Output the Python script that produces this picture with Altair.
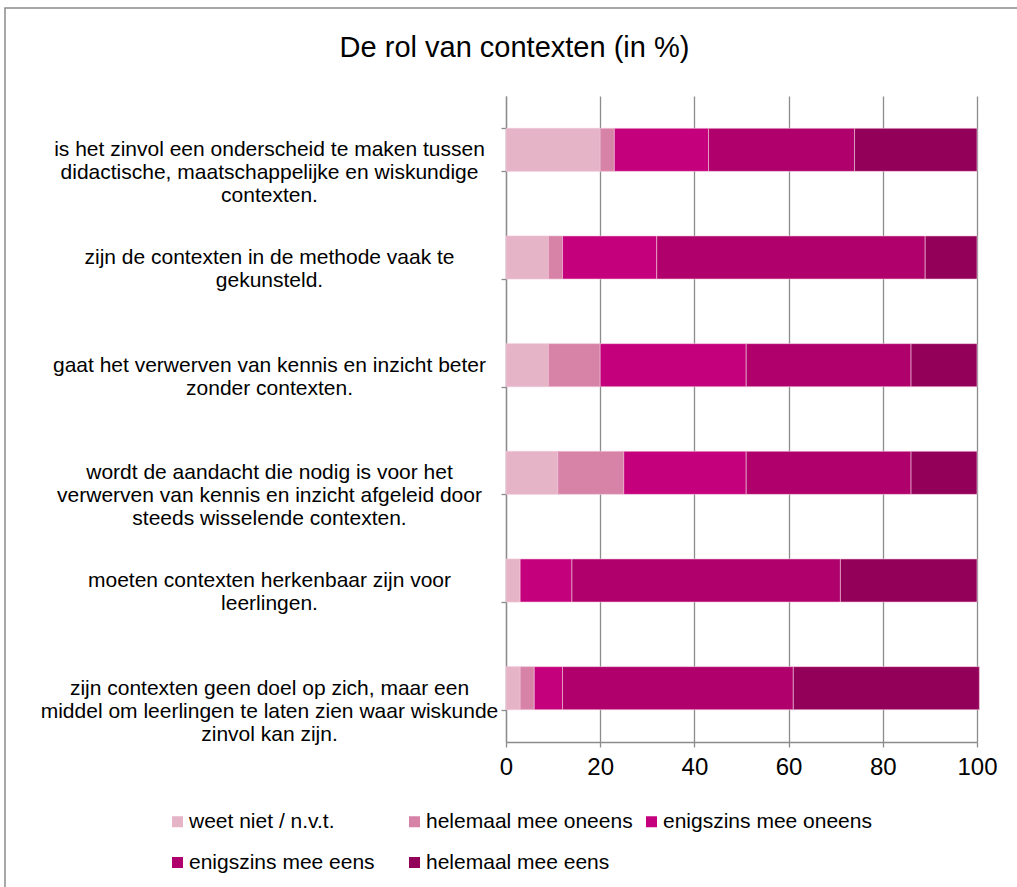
import altair as alt
import pandas as pd

FONT = "Liberation Sans"

title_text = "De rol van contexten (in %)"

categories = [
    "is het zinvol een onderscheid te maken tussen\ndidactische, maatschappelijke en wiskundige\ncontexten.",
    "zijn de contexten in de methode vaak te\ngekunsteld.",
    "gaat het verwerven van kennis en inzicht beter\nzonder contexten.",
    "wordt de aandacht die nodig is voor het\nverwerven van kennis en inzicht afgeleid door\nsteeds wisselende contexten.",
    "moeten contexten herkenbaar zijn voor\nleerlingen.",
    "zijn contexten geen doel op zich, maar een\nmiddel om leerlingen te laten zien waar wiskunde\nzinvol kan zijn.",
]

responses = [
    "weet niet / n.v.t.",
    "helemaal mee oneens",
    "enigszins mee oneens",
    "enigszins mee eens",
    "helemaal mee eens",
]
colors = ["#E5B4C6", "#D683A7", "#C5007D", "#AF006B", "#93005A"]

weet_niet = [20, 9, 9, 11, 3, 3]
helemaal_oneens = [3, 3, 11, 14, 0, 3]
enigszins_oneens = [20, 20, 31, 26, 11, 6]
enigszins_eens = [31, 57, 35, 35, 57, 49]
helemaal_eens = [26, 11, 14, 14, 29, 39.5]

x_ticks = [0, 20, 40, 60, 80, 100]

series = [weet_niet, helemaal_oneens, enigszins_oneens, enigszins_eens, helemaal_eens]
rows = []
for r_idx, (resp, vals) in enumerate(zip(responses, series)):
    for cat, v in zip(categories, vals):
        rows.append({"vraag": cat, "antwoord": resp, "pct": v, "idx": r_idx})
df = pd.DataFrame(rows)

GRAY = "#8C8C8C"

bars = alt.Chart(df).mark_bar(stroke="#F2C6DA", strokeWidth=0.6).encode(
    y=alt.Y(
        "vraag:N",
        sort=categories,
        scale=alt.Scale(paddingInner=0.6, paddingOuter=0.3),
        axis=alt.Axis(
            title=None,
            labelExpr="split(datum.label, '\\n')",
            labelAlign="center",
            labelBaseline="middle",
            labelPadding=232,
            labelFontSize=21,
            labelLineHeight=23,
            labelLimit=700,
            labelFont=FONT,
            labelColor="black",
            tickBand="extent",
            tickSize=5,
            tickColor=GRAY,
            tickWidth=1.3,
            domainColor=GRAY,
            domainWidth=1.3,
            grid=False,
        ),
    ),
    x=alt.X(
        "pct:Q",
        stack="zero",
        scale=alt.Scale(domain=[0, 100], nice=False),
        axis=alt.Axis(
            title=None,
            values=x_ticks,
            grid=True,
            gridColor=GRAY,
            gridWidth=1.3,
            tickSize=5,
            tickColor=GRAY,
            tickWidth=1.3,
            domainColor=GRAY,
            domainWidth=1.3,
            labelFontSize=24,
            labelFont=FONT,
            labelColor="black",
            labelPadding=8,
            labelFlush=False,
        ),
    ),
    color=alt.Color(
        "antwoord:N",
        scale=alt.Scale(domain=responses, range=colors),
        legend=alt.Legend(
            title=None,
            orient="none",
            legendX=-339,
            legendY=715,
            direction="horizontal",
            columns=3,
            gridAlign="all",
            symbolType="square",
            symbolSize=121,
            symbolStrokeWidth=0,
            symbolOpacity=1,
            labelFontSize=21,
            labelFont=FONT,
            labelColor="black",
            labelOffset=1,
            columnPadding=6,
            rowPadding=19,
            labelLimit=400,
        ),
    ),
    order=alt.Order("idx:Q"),
)

border = alt.Chart(pd.DataFrame({"a": [0]})).mark_rect(
    fillOpacity=0, stroke=GRAY, strokeWidth=1.5
).encode(
    x=alt.value(-501), x2=alt.value(620), y=alt.value(-88), y2=alt.value(900)
)

title = alt.Chart(pd.DataFrame({"t": [title_text]})).mark_text(
    fontSize=29, font=FONT, align="center", baseline="alphabetic", color="black"
).encode(text="t:N", x=alt.value(8.5), y=alt.value(-39.3))

chart = alt.layer(border, bars, title).properties(
    width=471,
    height=646,
    autosize=alt.AutoSizeParams(type="none"),
    padding={"left": 506, "top": 96, "right": 40, "bottom": 145},
).configure_view(stroke=None)

chart.save("out.html", embed_options={"renderer": "svg", "actions": False})
